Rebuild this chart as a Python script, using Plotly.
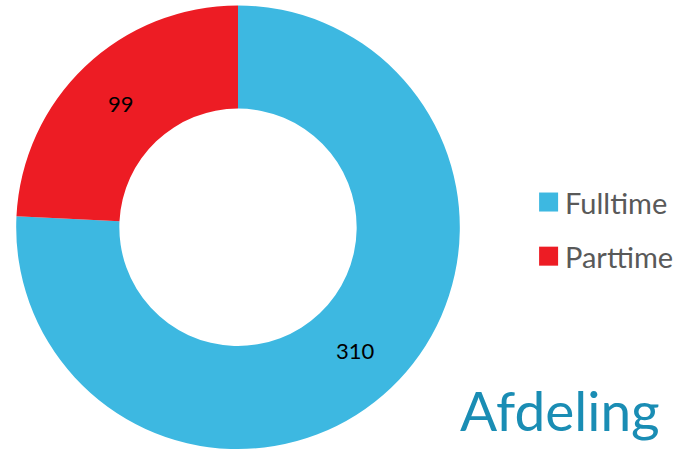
import plotly.graph_objects as go

labels = ["Fulltime", "Parttime"]
values = [310, 99]
colors = ["#3DB8E1", "#ED1C24"]
title_text = "Afdeling"

fig = go.Figure()
fig.add_trace(go.Pie(
    labels=labels,
    values=values,
    hole=0.535,
    sort=False,
    direction="clockwise",
    rotation=0,
    marker=dict(colors=colors, line=dict(width=0)),
    textinfo="value",
    textposition="inside",
    insidetextorientation="horizontal",
    textfont=dict(family="Lato", size=22, color="black"),
    domain=dict(x=[0.0204, 0.6745], y=[0.013, 0.988]),
    showlegend=False,
))

# legend drawn as paper-anchored squares + labels
shapes = []
annotations = []
leg_x0 = 0.787
leg_y_top = 0.556
leg_step = 0.119
sq_w = 19 / 685
sq_h = 19 / 455
for i, (lab, col) in enumerate(zip(labels, colors)):
    yc = leg_y_top - i * leg_step
    shapes.append(dict(type="rect", xref="paper", yref="paper",
                       x0=leg_x0, x1=leg_x0 + sq_w,
                       y0=yc - sq_h / 2, y1=yc + sq_h / 2,
                       fillcolor=col, line=dict(width=0)))
    annotations.append(dict(text=lab, xref="paper", yref="paper",
                            x=leg_x0 + sq_w + 5 / 685, y=yc,
                            xanchor="left", yanchor="middle", showarrow=False,
                            font=dict(family="Lato", size=29, color="#595959")))

annotations.append(dict(
    text=title_text, x=0.8175, y=0.098, xref="paper", yref="paper",
    xanchor="center", yanchor="middle", showarrow=False,
    font=dict(family="Lato", size=55, color="#1A8DB4"),
))

fig.update_layout(
    width=685, height=455,
    margin=dict(l=0, r=0, t=0, b=0),
    paper_bgcolor="white",
    plot_bgcolor="white",
    showlegend=False,
    shapes=shapes,
    annotations=annotations,
)

fig.write_html("out.html", config={"displayModeBar": False},
               post_script="document.body.style.margin='0';")
